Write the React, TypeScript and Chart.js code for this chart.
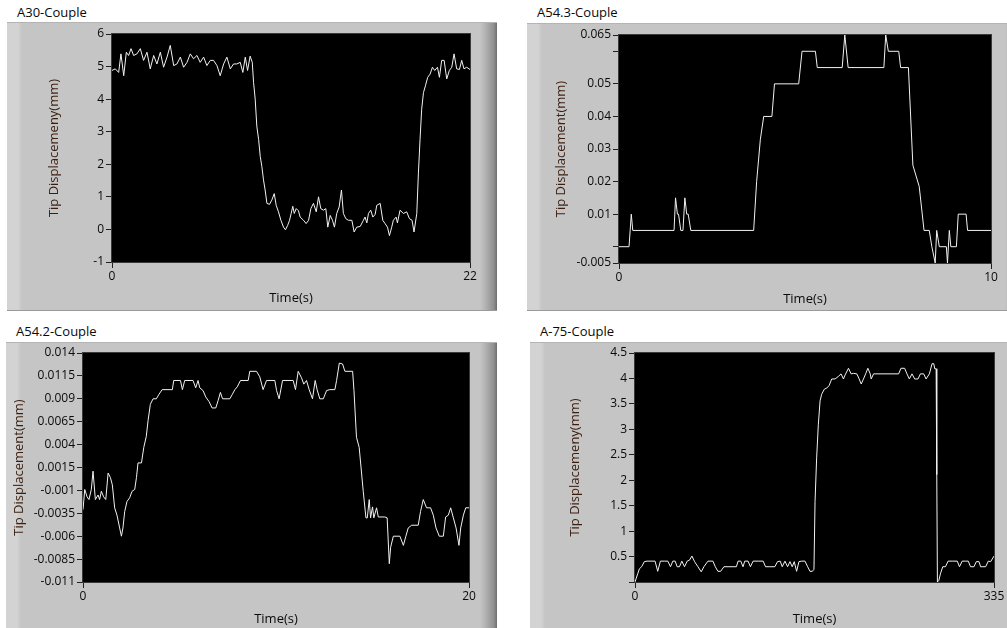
import React, { useEffect, useRef } from "react";
import { Chart, registerables } from "chart.js";

Chart.register(...registerables);

const FONT = "'Open Sans', 'Noto Sans', sans-serif";

// ---------- Panel 1: A30-Couple ----------
const a30Time = [0, 0.20, 0.41, 0.55, 0.72, 0.88, 1.02, 1.17, 1.33, 1.53, 1.74, 1.94, 2.15, 2.35, 2.56, 2.76, 2.97, 3.17, 3.38, 3.58, 3.79, 3.99, 4.20, 4.40, 4.61, 4.81, 5.01, 5.22, 5.42, 5.63, 5.83, 6.04, 6.24, 6.45, 6.65, 6.86, 7.06, 7.27, 7.47, 7.67, 7.88, 8.04, 8.19, 8.33, 8.49, 8.62, 8.70, 8.80, 8.90, 9.01, 9.11, 9.21, 9.31, 9.41, 9.52, 9.68, 9.82, 9.97, 10.09, 10.23, 10.38, 10.54, 10.66, 10.79, 10.91, 11.01, 11.11, 11.20, 11.32, 11.46, 11.56, 11.77, 11.93, 12.08, 12.22, 12.38, 12.55, 12.69, 12.83, 13.00, 13.14, 13.26, 13.41, 13.55, 13.67, 13.81, 13.96, 14.10, 14.22, 14.37, 14.53, 14.74, 14.88, 15.04, 15.25, 15.45, 15.55, 15.66, 15.76, 15.90, 16.03, 16.17, 16.27, 16.48, 16.64, 16.78, 16.93, 17.05, 17.19, 17.29, 17.46, 17.54, 17.70, 17.91, 18.11, 18.28, 18.44, 18.56, 18.73, 18.83, 18.93, 19.03, 19.14, 19.26, 19.40, 19.55, 19.69, 19.83, 20.00, 20.12, 20.26, 20.41, 20.57, 20.73, 20.88, 21.02, 21.18, 21.35, 21.49, 21.63, 21.80, 22.00];
const a30Disp = [4.88, 4.93, 4.82, 5.39, 4.72, 5.44, 5.34, 5.55, 5.34, 5.39, 5.55, 5.19, 5.44, 4.93, 5.34, 5.08, 5.44, 4.98, 5.29, 5.65, 5.03, 5.08, 5.29, 4.98, 5.13, 5.39, 5.24, 5.34, 5.13, 5.29, 5.03, 5.19, 5.19, 5.03, 4.72, 5.08, 5.29, 4.93, 5.08, 5.08, 5.13, 4.82, 5.29, 4.88, 5.32, 5.13, 4.51, 4.00, 3.17, 2.76, 2.24, 1.93, 1.52, 1.21, 0.80, 0.77, 0.90, 1.10, 0.74, 0.54, 0.28, 0.07, -0.01, 0.12, 0.28, 0.49, 0.71, 0.49, 0.64, 0.57, 0.38, 0.28, 0.18, 0.28, 0.64, 0.80, 0.54, 1.00, 0.64, 0.59, 0.64, 0.07, 0.43, 0.28, 0.07, 0.49, 0.69, 1.21, 0.49, 0.33, 0.28, 0.28, -0.08, 0.07, 0.09, 0.28, 0.38, 0.20, 0.49, 0.59, 0.38, 0.46, 0.74, 0.80, 0.28, 0.18, 0.07, -0.19, 0.07, 0.28, 0.38, 0.20, 0.59, 0.49, 0.54, 0.33, 0.28, -0.08, 0.49, 1.73, 2.76, 3.69, 4.20, 4.41, 4.67, 4.77, 4.98, 4.88, 4.98, 4.67, 5.19, 5.19, 4.62, 4.88, 4.98, 5.39, 4.93, 4.91, 5.19, 4.93, 4.98, 4.91];
const a30YTicks = [-1, 0, 1, 2, 3, 4, 5, 6];
const a30YLabels = ["-1", "0", "1", "2", "3", "4", "5", "6"];
const a30XTicks = [0, 22];
const a30XLabels = ["0", "22"];

// ---------- Panel 2: A54.3-Couple ----------
const a543Time = [0, 0.27, 0.30, 0.33, 0.37, 1.48, 1.52, 1.57, 1.60, 1.66, 1.72, 1.77, 1.82, 1.86, 1.93, 3.62, 3.70, 3.80, 3.89, 4.11, 4.18, 4.83, 4.92, 5.28, 5.33, 6.00, 6.07, 6.16, 7.12, 7.17, 7.24, 7.52, 7.57, 7.78, 7.90, 8.07, 8.20, 8.34, 8.41, 8.50, 8.54, 8.61, 8.80, 8.83, 8.88, 8.92, 9.07, 9.12, 9.33, 9.37, 10.00];
const a543Disp = [0, 0, 0.005, 0.01, 0.005, 0.005, 0.015, 0.01, 0.01, 0.005, 0.005, 0.015, 0.01, 0.01, 0.005, 0.005, 0.02, 0.033, 0.04, 0.04, 0.05, 0.05, 0.06, 0.06, 0.055, 0.055, 0.065, 0.055, 0.055, 0.065, 0.06, 0.06, 0.055, 0.055, 0.025, 0.0185, 0.005, 0.005, 0, -0.005, 0.005, 0, 0, -0.005, 0.005, 0, 0, 0.01, 0.01, 0.005, 0.005];
const a543YTicks = [-0.005, 0, 0.01, 0.02, 0.03, 0.04, 0.05, 0.06, 0.065];
const a543YLabels = ["-0.005", "", "0.01", "0.02", "0.03", "0.04", "0.05", "", "0.065"];
const a543XTicks = [0, 10];
const a543XLabels = ["0", "10"];

// ---------- Panel 3: A54.2-Couple ----------
const a542Time = [0, 0.09, 0.21, 0.31, 0.43, 0.52, 0.64, 0.78, 0.86, 0.95, 1.07, 1.18, 1.30, 1.42, 1.52, 1.64, 1.76, 1.90, 1.99, 2.07, 2.16, 2.28, 2.42, 2.54, 2.68, 2.77, 2.85, 3.03, 3.15, 3.28, 3.37, 3.49, 3.63, 3.80, 3.94, 4.10, 4.63, 4.70, 5.05, 5.15, 5.27, 5.70, 5.84, 5.96, 6.05, 6.22, 6.36, 6.53, 6.69, 6.88, 7.00, 7.12, 7.23, 7.61, 7.74, 7.87, 7.99, 8.16, 8.56, 8.64, 8.99, 9.16, 9.33, 9.51, 9.94, 10.03, 10.16, 10.34, 10.89, 11.01, 11.15, 11.32, 11.44, 11.58, 11.72, 11.89, 12.03, 12.13, 12.27, 12.45, 12.62, 12.79, 13.05, 13.14, 13.28, 13.45, 13.57, 13.97, 14.04, 14.17, 14.31, 14.52, 14.66, 14.73, 14.83, 14.90, 15.00, 15.07, 15.21, 15.30, 15.64, 15.76, 15.87, 15.94, 16.08, 16.42, 16.60, 16.73, 16.85, 17.03, 17.37, 17.49, 17.63, 17.80, 18.01, 18.15, 18.29, 18.46, 18.67, 18.79, 18.93, 19.05, 19.19, 19.33, 19.48, 19.57, 19.71, 19.83, 20.00];
const a542Disp = [-0.0031, -0.0009, -0.0017, -0.0020, -0.0009, 0.0011, -0.0020, -0.0015, -0.0020, -0.0011, -0.0017, -0.0020, 0.0009, 0.0004, -0.0004, -0.0029, -0.0037, -0.0051, -0.0060, -0.0051, -0.0033, -0.0022, -0.0018, -0.0011, -0.0009, 0.0004, 0.0020, 0.0020, 0.0037, 0.0049, 0.0066, 0.0084, 0.0090, 0.0090, 0.0095, 0.0100, 0.0100, 0.0110, 0.0110, 0.0100, 0.0110, 0.0110, 0.0102, 0.0110, 0.0102, 0.0099, 0.0092, 0.0087, 0.0080, 0.0080, 0.0088, 0.0097, 0.0090, 0.0090, 0.0095, 0.0100, 0.0103, 0.0110, 0.0110, 0.0120, 0.0120, 0.0114, 0.0100, 0.0110, 0.0110, 0.0099, 0.0090, 0.0110, 0.0110, 0.0100, 0.0120, 0.0113, 0.0106, 0.0110, 0.0100, 0.0090, 0.0110, 0.0100, 0.0090, 0.0090, 0.0099, 0.0100, 0.0100, 0.0110, 0.0129, 0.0128, 0.0120, 0.0120, 0.0099, 0.0048, 0.0037, -0.0011, -0.0040, -0.0040, -0.0020, -0.0040, -0.0028, -0.0040, -0.0029, -0.0039, -0.0039, -0.0040, -0.0090, -0.0072, -0.0060, -0.0060, -0.0070, -0.0060, -0.0051, -0.0048, -0.0048, -0.0033, -0.0020, -0.0029, -0.0029, -0.0037, -0.0051, -0.0060, -0.0060, -0.0039, -0.0037, -0.0029, -0.0040, -0.0051, -0.0070, -0.0051, -0.0037, -0.0029, -0.0029];
const a542YTicks = [-0.011, -0.0085, -0.006, -0.0035, -0.001, 0.0015, 0.004, 0.0065, 0.009, 0.0115, 0.014];
const a542YLabels = ["-0.011", "-0.0085", "-0.006", "-0.0035", "-0.001", "0.0015", "0.004", "0.0065", "0.009", "0.0115", "0.014"];
const a542XTicks = [0, 20];
const a542XLabels = ["0", "20"];

// ---------- Panel 4: A-75-Couple ----------
const a75Time = [0, 2.5, 4.1, 6.2, 8.7, 11.2, 15.0, 18.7, 21.2, 23.7, 27.5, 30.6, 33.1, 35.3, 37.5, 39.3, 41.5, 43.7, 46.2, 48.7, 50.9, 53.1, 55.6, 58.7, 61.8, 64.3, 68.1, 72.7, 74.9, 77.4, 79.9, 83.0, 86.8, 91.5, 94.6, 96.2, 98.7, 100.8, 102.4, 105.5, 107.7, 110.2, 114.9, 119.6, 121.8, 125.8, 130.5, 133.0, 135.5, 137.4, 139.9, 142.4, 144.6, 146.7, 148.6, 150.8, 153.0, 155.5, 158.6, 161.1, 163.3, 165.5, 167.0, 168.0, 169.5, 171.1, 172.7, 174.2, 176.7, 178.9, 181.1, 183.6, 186.7, 189.8, 192.3, 194.5, 196.1, 199.2, 201.7, 203.9, 207.0, 209.2, 211.1, 213.2, 215.4, 217.3, 219.5, 220.4, 222.6, 224.8, 246.0, 248.2, 251.6, 253.8, 256.0, 258.5, 261.0, 264.1, 266.3, 269.4, 271.6, 274.7, 277.2, 278.8, 279.7, 281.0, 281.6, 282.2, 283.5, 285.0, 287.2, 289.7, 292.2, 296.0, 300.7, 302.8, 305.3, 308.5, 311.0, 313.1, 316.3, 318.5, 321.0, 322.5, 324.7, 327.2, 329.7, 331.9, 335.0];
const a75Disp = [0, 0.16, 0.26, 0.30, 0.40, 0.41, 0.41, 0.41, 0.21, 0.41, 0.41, 0.41, 0.30, 0.41, 0.41, 0.30, 0.30, 0.41, 0.30, 0.41, 0.43, 0.51, 0.40, 0.30, 0.20, 0.30, 0.41, 0.41, 0.30, 0.21, 0.21, 0.30, 0.30, 0.30, 0.30, 0.41, 0.41, 0.30, 0.41, 0.41, 0.30, 0.41, 0.41, 0.41, 0.30, 0.30, 0.30, 0.40, 0.41, 0.30, 0.41, 0.30, 0.40, 0.30, 0.40, 0.21, 0.40, 0.41, 0.41, 0.30, 0.21, 0.21, 0.25, 1.58, 2.44, 3.10, 3.56, 3.69, 3.79, 3.81, 3.86, 3.99, 3.99, 4.04, 4.09, 3.99, 4.07, 4.20, 4.09, 4.10, 4.09, 3.99, 3.89, 3.99, 4.10, 4.20, 4.09, 3.99, 4.09, 4.09, 4.09, 4.20, 4.20, 4.09, 3.99, 4.09, 3.99, 3.99, 4.09, 4.09, 3.99, 4.09, 4.29, 4.29, 4.19, 4.19, 2.11, 0, 0.03, 0.16, 0.30, 0.30, 0.41, 0.41, 0.41, 0.30, 0.41, 0.41, 0.41, 0.30, 0.30, 0.40, 0.40, 0.30, 0.30, 0.30, 0.41, 0.40, 0.51];
const a75YTicks = [0, 0.5, 1, 1.5, 2, 2.5, 3, 3.5, 4, 4.5];
const a75YLabels = ["", "0.5", "1", "1.5", "2", "2.5", "3", "3.5", "4", "4.5"];
const a75XTicks = [0, 335];
const a75XLabels = ["0", "335"];

type Geo = {
  left: number; top: number; width: number; height: number;
  yAxisW: number; padTop: number; padRight: number; xAxisH: number;
  yTitlePad: number; xTitlePad: number;
  titleLeft: number; titleTop: number;
};

type PanelProps = {
  title: string;
  yTitle: string;
  time: number[];
  disp: number[];
  yTicks: number[];
  yLabels: string[];
  xTicks: number[];
  xLabels: string[];
  geo: Geo;
};

const plotBg = {
  id: "plotBg",
  beforeDraw(chart: any) {
    const { ctx, chartArea } = chart;
    ctx.save();
    ctx.fillStyle = "#000000";
    ctx.fillRect(chartArea.left, chartArea.top, chartArea.right - chartArea.left, chartArea.bottom - chartArea.top);
    ctx.restore();
  },
  afterDraw(chart: any) {
    const { ctx, chartArea } = chart;
    ctx.save();
    ctx.strokeStyle = "#3a3a3a";
    ctx.lineWidth = 1;
    ctx.strokeRect(chartArea.left - 0.5, chartArea.top - 0.5, chartArea.right - chartArea.left + 1, chartArea.bottom - chartArea.top + 1);
    ctx.restore();
  },
};

function Panel(p: PanelProps) {
  const ref = useRef<HTMLCanvasElement | null>(null);
  const g = p.geo;
  useEffect(() => {
    if (!ref.current) return;
    const n = Math.min(p.time.length, p.disp.length);
    const pts = [] as { x: number; y: number }[];
    for (let i = 0; i < n; i++) pts.push({ x: p.time[i], y: p.disp[i] });
    const tickColor = "#0a0a0a";
    const chart = new Chart(ref.current, {
      type: "line",
      data: {
        datasets: [
          {
            data: pts,
            borderColor: "#f2f2f2",
            borderWidth: 1,
            pointRadius: 0,
            tension: 0,
            fill: false,
          },
        ],
      },
      options: {
        animation: false,
        responsive: false,
        events: [],
        layout: { padding: { left: 0, top: g.padTop, right: g.padRight, bottom: 0 } },
        plugins: { legend: { display: false }, tooltip: { enabled: false }, title: { display: false } },
        scales: {
          x: {
            type: "linear",
            min: p.xTicks[0],
            max: p.xTicks[p.xTicks.length - 1],
            afterBuildTicks: (s: any) => {
              s.ticks = p.xTicks.map((v) => ({ value: v }));
            },
            afterFit: (s: any) => {
              s.height = g.xAxisH;
            },
            ticks: {
              autoSkip: false,
              maxRotation: 0,
              minRotation: 0,
              padding: 1,
              color: tickColor,
              font: { family: FONT, size: 12 },
              callback: (_v: any, i: number) => p.xLabels[i],
            },
            grid: { drawOnChartArea: false, drawTicks: true, tickLength: 6, color: "#202020" },
            border: { display: false },
            title: {
              display: true,
              text: "Time(s)",
              color: "#0a0a0a",
              font: { family: FONT, size: 13 },
              padding: { top: 0, bottom: g.xTitlePad },
            },
          },
          y: {
            type: "linear",
            min: p.yTicks[0],
            max: p.yTicks[p.yTicks.length - 1],
            afterBuildTicks: (s: any) => {
              s.ticks = p.yTicks.map((v) => ({ value: v }));
            },
            afterFit: (s: any) => {
              s.width = g.yAxisW;
            },
            ticks: {
              autoSkip: false,
              padding: 2,
              color: tickColor,
              font: { family: FONT, size: 12 },
              callback: (_v: any, i: number) => p.yLabels[i],
            },
            grid: { drawOnChartArea: false, drawTicks: true, tickLength: 6, color: "#202020" },
            border: { display: false },
            title: {
              display: true,
              text: p.yTitle,
              color: "#3a1e0e",
              font: { family: FONT, size: 13 },
              padding: { top: g.yTitlePad, bottom: 0 },
            },
          },
        },
      },
      plugins: [plotBg],
    } as any);
    return () => chart.destroy();
  }, []);

  return (
    <>
      <div
        style={{
          position: "absolute",
          left: g.titleLeft,
          top: g.titleTop,
          fontFamily: FONT,
          fontSize: 13,
          lineHeight: "13px",
          color: "#0a0a0a",
          whiteSpace: "nowrap",
        }}
      >
        {p.title}
      </div>
      <div
        style={{
          position: "absolute",
          left: g.left,
          top: g.top,
          width: g.width,
          height: g.height,
          boxSizing: "border-box",
          borderTop: "1px solid #b4b4b4",
          borderBottom: "1px solid #9a9a9a",
          background:
            "linear-gradient(to right, #d3d3d3 0px, #d3d3d3 11px, #c5c5c5 15px, #c5c5c5 calc(100% - 17px), #b4b4b4 calc(100% - 12px), #8e8e8e calc(100% - 3px), #6c6c6c 100%)",
        }}
      >
        <canvas
          ref={ref}
          width={g.width}
          height={g.height - 2}
          style={{ display: "block", width: g.width, height: g.height - 2 }}
        />
      </div>
    </>
  );
}

const geo1: Geo = { left: 7, top: 22, width: 490, height: 289, yAxisW: 105, padTop: 11, padRight: 27, xAxisH: 48, yTitlePad: 39, xTitlePad: 4, titleLeft: 17, titleTop: 6 };
const geo2: Geo = { left: 527, top: 23, width: 495, height: 288, yAxisW: 92, padTop: 11, padRight: 31, xAxisH: 47, yTitlePad: 26, xTitlePad: 3, titleLeft: 537, titleTop: 6 };
const geo3: Geo = { left: 6, top: 342, width: 491, height: 290, yAxisW: 77, padTop: 10, padRight: 28, xAxisH: 49, yTitlePad: 5, xTitlePad: 4, titleLeft: 16, titleTop: 325 };
const geo4: Geo = { left: 530, top: 342, width: 495, height: 290, yAxisW: 105, padTop: 10, padRight: 31, xAxisH: 49, yTitlePad: 37, xTitlePad: 4, titleLeft: 540, titleTop: 325 };

export default function App() {
  return (
    <div
      style={{
        position: "fixed",
        left: 0,
        top: 0,
        width: 1007,
        height: 628,
        overflow: "hidden",
        background: "#ffffff",
      }}
    >
      <Panel title="A30-Couple" yTitle="Tip Displacemeny(mm)" time={a30Time} disp={a30Disp} yTicks={a30YTicks} yLabels={a30YLabels} xTicks={a30XTicks} xLabels={a30XLabels} geo={geo1} />
      <Panel title="A54.3-Couple" yTitle="Tip Displacement(mm)" time={a543Time} disp={a543Disp} yTicks={a543YTicks} yLabels={a543YLabels} xTicks={a543XTicks} xLabels={a543XLabels} geo={geo2} />
      <Panel title="A54.2-Couple" yTitle="Tip Displacement(mm)" time={a542Time} disp={a542Disp} yTicks={a542YTicks} yLabels={a542YLabels} xTicks={a542XTicks} xLabels={a542XLabels} geo={geo3} />
      <Panel title="A-75-Couple" yTitle="Tip Displacemeny(mm)" time={a75Time} disp={a75Disp} yTicks={a75YTicks} yLabels={a75YLabels} xTicks={a75XTicks} xLabels={a75XLabels} geo={geo4} />
    </div>
  );
}
